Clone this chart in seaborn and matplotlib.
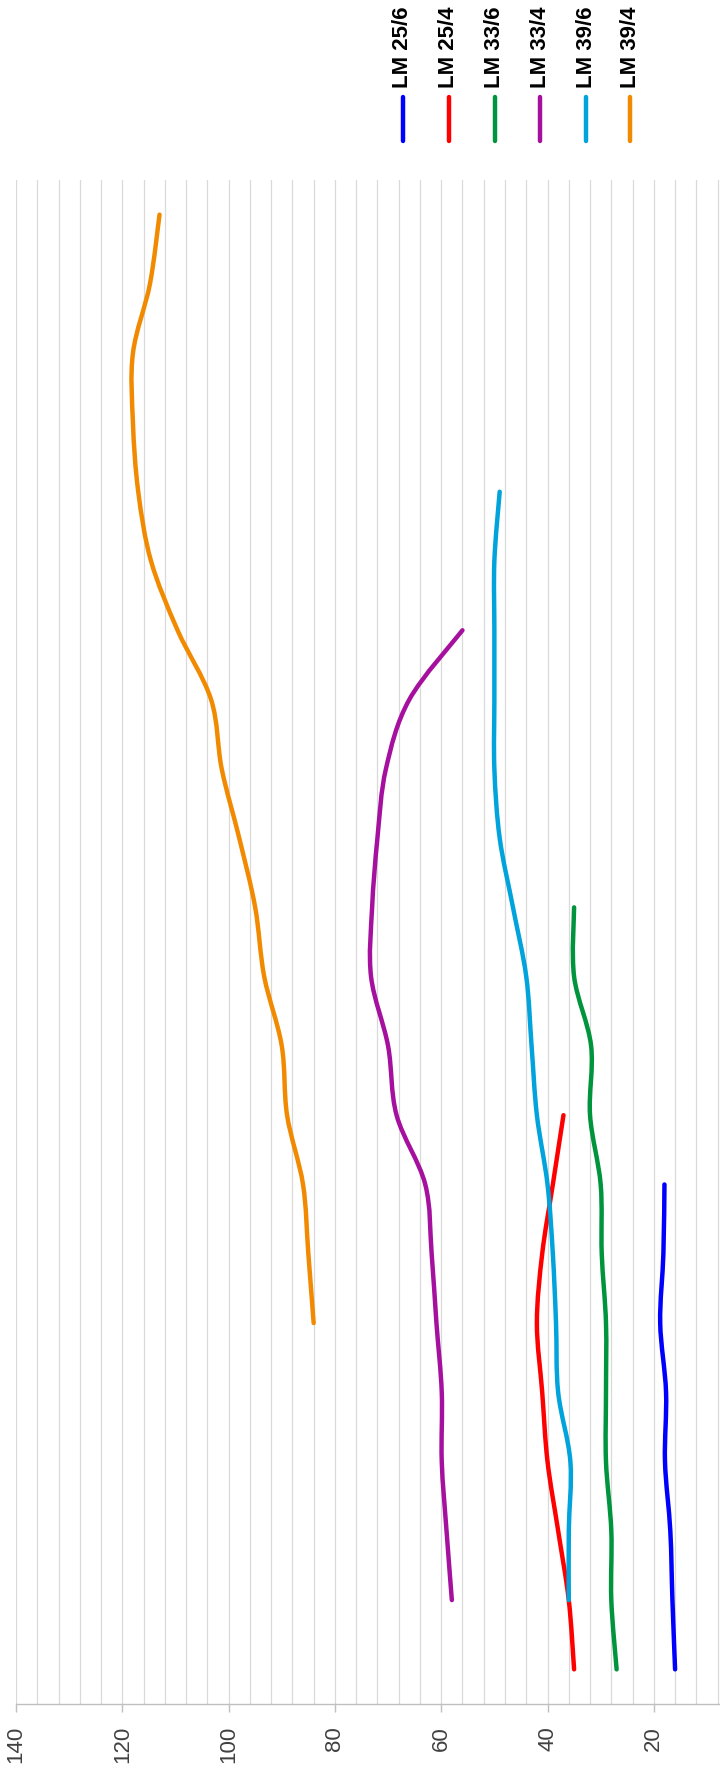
import numpy as np
import pandas as pd
import matplotlib
matplotlib.use("Agg")
import matplotlib.pyplot as plt
import seaborn as sns
from matplotlib.lines import Line2D
from matplotlib.path import Path
from matplotlib.patheffects import AbstractPathEffect
from matplotlib.transforms import IdentityTransform

nan = np.nan

# categories (no labels shown on the category axis)
categories = list(range(22))

series_names = ["LM 25/6", "LM 25/4", "LM 33/6", "LM 33/4", "LM 39/6", "LM 39/4"]
series_colors = ["#0000ff", "#ff0000", "#00943c", "#a5119e", "#00a3dc", "#f18a00"]

lm25_6 = [16, 16.5, 16.9, 17.9, 17.7, 18.8, 18.2, 18]
lm25_4 = [35, 36, 38, 40, 41, 42, 41, 39, 37]
lm33_6 = [27, 28, 28, 29, 29, 29, 29.8, 30, 32, 31.8, 35, 35]
lm33_4 = [nan, 58, 59, 59.9, 59.9, 60.9, 61.8, 63, 68.4, 70, 73.2, 73, 72, 70.4, 66, 56]
lm39_6 = [nan, 36, 36, 35.7, 38, 38.4, 39, 40, 42, 43, 44, 46.5, 49, 50, 50, 50, 50, 49]
lm39_4 = [nan, nan, nan, nan, nan, 84, 85, 86, 89, 90, 93.3, 95, 98, 101.3, 103.3,
          109.6, 114.6, 117, 118, 118, 114.8, 113]

series_values = [lm25_6, lm25_4, lm33_6, lm33_4, lm39_6, lm39_4]

value_ticks = [20, 40, 60, 80, 100, 120, 140]
grid_ticks = list(range(8, 141, 4))


class Smooth(AbstractPathEffect):
    # draws the polyline as a smooth bezier through its own vertices (excel style)
    def draw_path(self, renderer, gc, tpath, affine, rgbFace=None):
        p = affine.transform(tpath.vertices)
        n = len(p)
        if n < 3:
            renderer.draw_path(gc, tpath, affine, rgbFace)
            return
        ext = np.vstack([p[0], p, p[-1]])
        verts = [p[0]]
        codes = [Path.MOVETO]
        for i in range(n - 1):
            a, b, c, d = ext[i], ext[i + 1], ext[i + 2], ext[i + 3]
            verts += [b + (c - a) / 6, c - (d - b) / 6, c]
            codes += [Path.CURVE4] * 3
        renderer.draw_path(gc, Path(np.array(verts), codes), IdentityTransform(), None)


sns.set_theme(style="white")
plt.rcParams["font.family"] = ["Liberation Sans", "DejaVu Sans"]

W, H = 720, 1775
fig = plt.figure(figsize=(W / 100, H / 100), dpi=100)
ax = fig.add_axes([16 / W, 1 - 1704 / H, (W - 16) / W, 1524 / H])

for name, vals, col in zip(series_names, series_values, series_colors):
    df = pd.DataFrame({"cat": categories[:len(vals)], "value": vals}).dropna()
    sns.lineplot(data=df, x="value", y="cat", sort=False, estimator=None,
                 color=col, linewidth=3.2, ax=ax, legend=False,
                 solid_capstyle="round", solid_joinstyle="round")

for ln in ax.lines:
    ln.set_path_effects([Smooth()])

ax.set_xlim(140, 7.55)
ax.set_ylim(-0.5, 21.5)
ax.set_xticks(value_ticks)
ax.set_xticks(grid_ticks, minor=True)
ax.set_yticks([])
ax.set_xlabel("")
ax.set_ylabel("")
ax.grid(True, which="both", axis="x", color="#d9d9d9", linewidth=0.9)
ax.set_axisbelow(True)
for s in ["top", "left", "right"]:
    ax.spines[s].set_visible(False)
ax.spines["bottom"].set_color("#bfbfbf")
ax.spines["bottom"].set_linewidth(1.0)
ax.tick_params(axis="x", which="major", bottom=True, length=6, width=1,
               color="#bfbfbf", pad=10, labelsize=16, labelcolor="#404040",
               labelrotation=90)
ax.tick_params(axis="x", which="minor", length=0)
for lab in ax.get_xticklabels():
    lab.set_va("top")
    lab.set_ha("center")

# legend along the top, rotated like the rest of the chart
leg_x = [403, 449, 495, 540, 586, 630]
for name, col, lx in zip(series_names, series_colors, leg_x):
    fig.add_artist(Line2D([lx / W, lx / W], [1 - 97 / H, 1 - 141 / H],
                          transform=fig.transFigure, color=col, linewidth=3.2,
                          solid_capstyle="round"))
    fig.text(lx / W, 1 - 88 / H, name, rotation=90, ha="center", va="bottom",
             fontsize=16, fontweight="bold", color="black")

fig.savefig("out.png", dpi=100)
